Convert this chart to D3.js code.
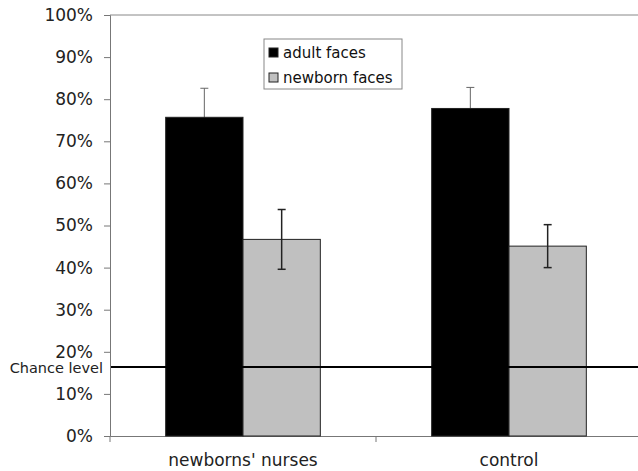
<!doctype html>
<html>
<head>
    <meta charset="UTF-8">
    <title>adult vs newborn faces</title>
    <script src="https://d3js.org/d3.v7.min.js"></script>
    <style>
        body { margin: 0; background: #fff; }
        text { font-family: "DejaVu Sans", sans-serif; }
    </style>
</head>
<body>
    <script>
        var groups = ["newborns' nurses", "control"];
        var series = ["adult faces", "newborn faces"];
        var adult = [0.757, 0.778];
        var adultErr = [0.069, 0.050];
        var newborn = [0.467, 0.451];
        var newbornErr = [0.071, 0.051];
        var yTicks = [0, 0.1, 0.2, 0.3, 0.4, 0.5, 0.6, 0.7, 0.8, 0.9, 1];
        var chance = 0.164;

        var w = 638, h = 471;
        var pLeft = 110, pRight = 642, pTop = 15, pBottom = 436;
        var font = "DejaVu Sans, sans-serif";

        var svg = d3.select("body").append("svg")
            .attr("width", w).attr("height", h);

        var x = d3.scaleBand().domain(groups).range([pLeft, pRight]);
        var inner = d3.scaleBand().domain(series).range([0, x.bandwidth()]).paddingOuter(0.72).paddingInner(0);
        var y = d3.scaleLinear().domain([0, 1]).range([pBottom, pTop]);
        var fill = d3.scaleOrdinal().domain(series).range(["#000000", "#c0c0c0"]);

        var rows = [];
        groups.forEach(function (g, i) {
            rows.push({ g: g, s: series[0], v: adult[i], e: adultErr[i] });
            rows.push({ g: g, s: series[1], v: newborn[i], e: newbornErr[i] });
        });

        // frame top line
        svg.append("line")
            .attr("x1", pLeft).attr("x2", w)
            .attr("y1", y(1)).attr("y2", y(1))
            .attr("stroke", "#888").attr("stroke-width", 1);

        // y axis
        var yAxis = svg.append("g")
            .attr("transform", "translate(" + pLeft + ",0)")
            .call(d3.axisLeft(y).tickValues(yTicks).tickFormat(d3.format(".0%")).tickSizeOuter(0).tickSize(6).tickPadding(11));
        yAxis.selectAll("path, line").attr("stroke", "#777");
        yAxis.selectAll("text").attr("font-size", 17).attr("fill", "#222")
            .attr("font-family", font);

        // x axis
        var xAxis = svg.append("g")
            .attr("transform", "translate(0," + pBottom + ")")
            .call(d3.axisBottom(x).tickSize(0).tickPadding(18));
        xAxis.select("path").attr("stroke", "#777");
        xAxis.selectAll("text").attr("font-size", 17).attr("fill", "#222")
            .attr("font-family", font);
        xAxis.selectAll("line.sep")
            .data([pLeft, x(groups[1])])
            .enter().append("line")
            .attr("class", "sep")
            .attr("x1", function (d) { return d; }).attr("x2", function (d) { return d; })
            .attr("y1", 0).attr("y2", 6)
            .attr("stroke", "#777");

        function cx(d) { return x(d.g) + inner(d.s) + inner.bandwidth() / 2; }
        function errBars(sel) {
            var eb = sel.enter().append("g")
                .attr("class", "err")
                .attr("stroke", function (d) { return d.s === series[0] ? "#666" : "#222"; })
                .attr("stroke-width", function (d) { return d.s === series[0] ? 1 : 1.5; });
            eb.append("line")
                .attr("x1", cx).attr("x2", cx)
                .attr("y1", function (d) { return y(d.v + d.e); })
                .attr("y2", function (d) { return y(d.v - d.e); });
            eb.selectAll("line.cap")
                .data(function (d) { return [{ c: cx(d), v: d.v + d.e }, { c: cx(d), v: d.v - d.e }]; })
                .enter().append("line")
                .attr("class", "cap")
                .attr("x1", function (d) { return d.c - 4; }).attr("x2", function (d) { return d.c + 4; })
                .attr("y1", function (d) { return y(d.v); }).attr("y2", function (d) { return y(d.v); });
        }

        // error bars of black bars sit behind the bars
        errBars(svg.append("g").selectAll("g.err").data(rows.filter(function (d) { return d.s === series[0]; })));

        // bars
        svg.selectAll("rect.bar")
            .data(rows)
            .enter().append("rect")
            .attr("class", "bar")
            .attr("x", function (d) { return x(d.g) + inner(d.s); })
            .attr("y", function (d) { return y(d.v); })
            .attr("width", inner.bandwidth())
            .attr("height", function (d) { return pBottom - y(d.v); })
            .attr("fill", function (d) { return fill(d.s); })
            .attr("stroke", "#222").attr("stroke-width", 1);

        errBars(svg.append("g").selectAll("g.err").data(rows.filter(function (d) { return d.s === series[1]; })));

        // chance level
        svg.append("line")
            .attr("x1", 111).attr("x2", w)
            .attr("y1", y(chance)).attr("y2", y(chance))
            .attr("stroke", "#000").attr("stroke-width", 2);
        svg.append("text")
            .attr("x", 103).attr("y", y(chance) + 6)
            .attr("text-anchor", "end")
            .attr("font-size", 14.5).attr("fill", "#222")
            .text("Chance level");

        // legend
        var lg = svg.append("g").attr("transform", "translate(264,39)");
        lg.append("rect")
            .attr("width", 138).attr("height", 50)
            .attr("fill", "#fff").attr("stroke", "#888");
        var item = lg.selectAll("g.item")
            .data(series)
            .enter().append("g")
            .attr("class", "item")
            .attr("transform", function (d, i) { return "translate(5," + (9 + i * 25) + ")"; });
        item.append("rect")
            .attr("width", 9).attr("height", 9)
            .attr("fill", function (d) { return fill(d); })
            .attr("stroke", "#222");
        item.append("text")
            .attr("x", 14).attr("y", 10)
            .attr("font-size", 15).attr("fill", "#111")
            .text(function (d) { return d; });
    </script>
</body>
</html>
